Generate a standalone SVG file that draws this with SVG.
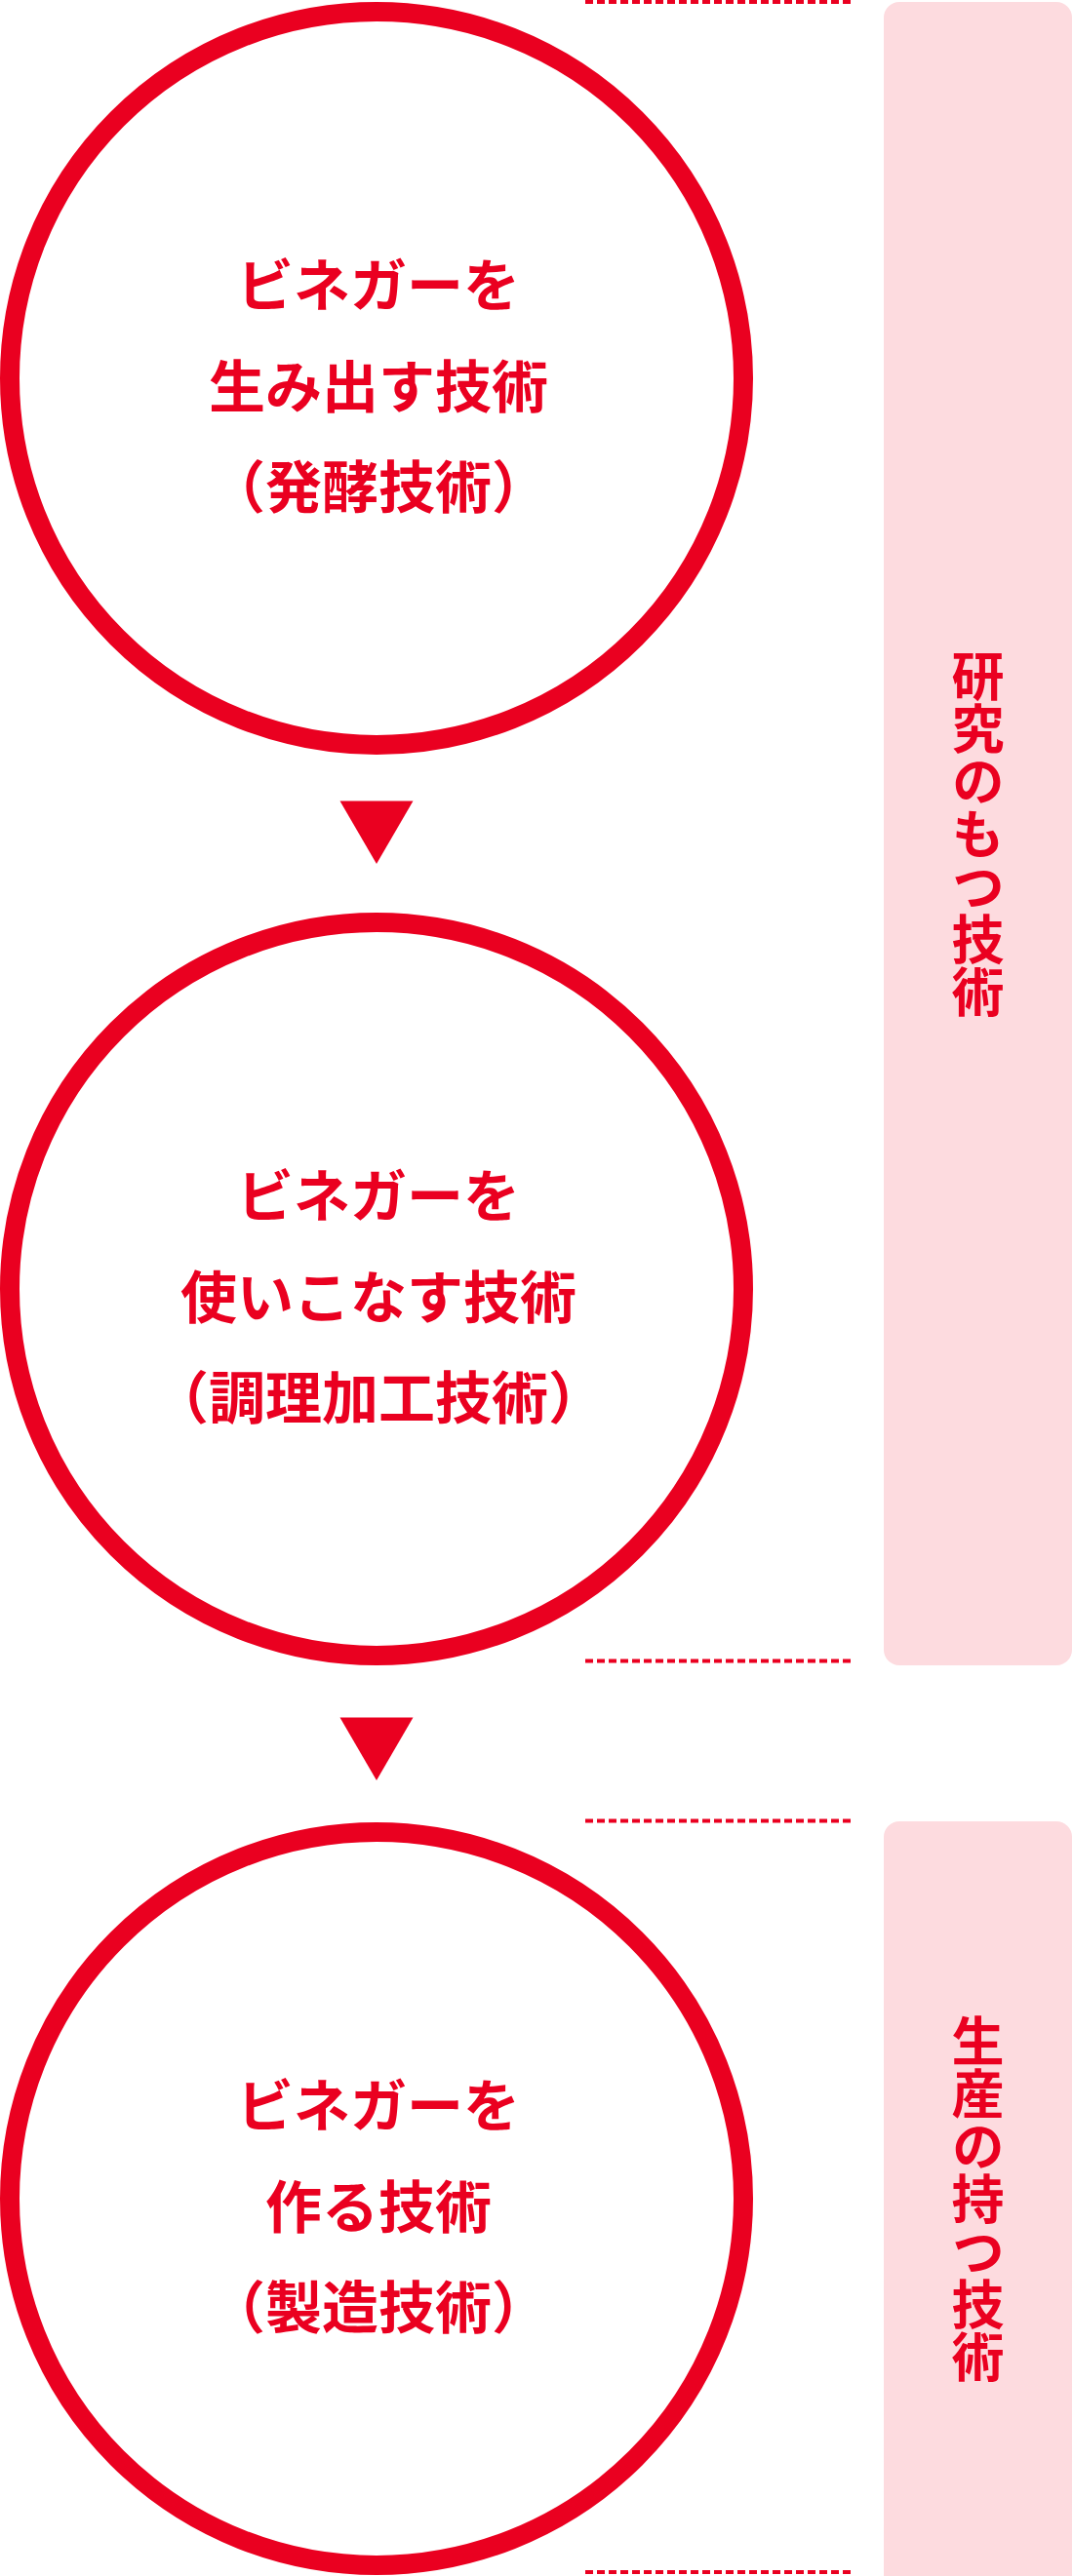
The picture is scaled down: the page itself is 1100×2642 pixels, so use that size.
<svg xmlns="http://www.w3.org/2000/svg" width="1100" height="2642" viewBox="0 0 1100 2642">
  <style>
    .ring { fill: #ffffff; stroke: #ea0020; stroke-width: 20; }
    .lbl { font-family: "Noto Sans CJK JP", "Noto Sans", sans-serif; font-weight: 700; font-size: 58px; fill: #ea0020; text-anchor: middle; }
    .band { fill: #fddbdf; }
    .vlbl { font-family: "Noto Sans CJK JP", "Noto Sans", sans-serif; font-weight: 700; font-size: 54px; fill: #ea0020; text-anchor: middle; writing-mode: vertical-rl; }
    .sep { stroke: #ea0020; stroke-width: 4; stroke-dasharray: 8 4; fill: none; }
    .arrow { fill: #ea0020; }
  </style>
  <rect width="1100" height="2642" fill="#ffffff"/>

  <g id="separators">
    <line class="sep" x1="600" y1="2" x2="872" y2="2"/>
    <line class="sep" x1="600" y1="1703.5" x2="872" y2="1703.5"/>
    <line class="sep" x1="600" y1="1867.5" x2="872" y2="1867.5"/>
    <line class="sep" x1="600" y1="2638" x2="872" y2="2638"/>
  </g>

  <g id="band-research">
    <rect class="band" x="906" y="2" width="193" height="1706" rx="16" ry="16"/>
    <text class="vlbl" x="1002.5" y="855">研究のもつ技術</text>
  </g>

  <g id="band-production">
    <rect class="band" x="906" y="1868" width="193" height="800" rx="16" ry="16"/>
    <text class="vlbl" x="1002.5" y="2255.5">生産の持つ技術</text>
  </g>

  <g id="node-fermentation">
    <circle class="ring" cx="386" cy="388" r="376"/>
    <text class="lbl" x="388" y="314">ビネガーを</text>
    <text class="lbl" x="388" y="417.5">生み出す技術</text>
    <text class="lbl" x="388" y="521">（発酵技術）</text>
  </g>

  <g id="node-cooking">
    <circle class="ring" cx="386" cy="1322" r="376"/>
    <text class="lbl" x="388" y="1248">ビネガーを</text>
    <text class="lbl" x="388" y="1351.5">使いこなす技術</text>
    <text class="lbl" x="388" y="1455">（調理加工技術）</text>
  </g>

  <g id="node-manufacturing">
    <circle class="ring" cx="386" cy="2255" r="376"/>
    <text class="lbl" x="388" y="2181">ビネガーを</text>
    <text class="lbl" x="388" y="2284.5">作る技術</text>
    <text class="lbl" x="388" y="2388">（製造技術）</text>
  </g>

  <g id="connectors">
    <polygon class="arrow" points="348.5,821.5 423.5,821.5 386,886"/>
    <polygon class="arrow" points="348.5,1761.5 423.5,1761.5 386,1826"/>
  </g>
</svg>
